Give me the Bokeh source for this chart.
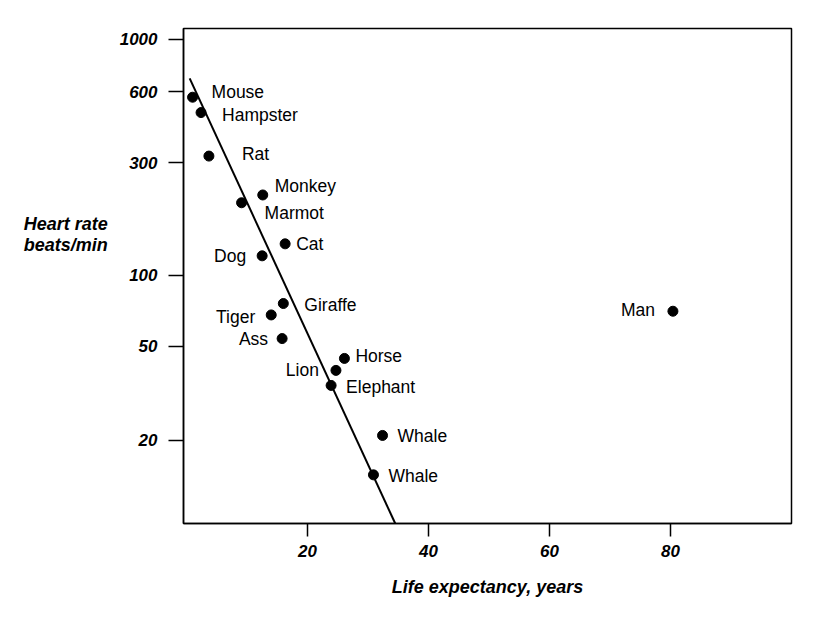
from bokeh.plotting import figure
from bokeh.models import FixedTicker, NumeralTickFormatter, ColumnDataSource, Range1d
from bokeh.embed import file_html
from bokeh.resources import INLINE
from bokeh.core.properties import value, field

# ---- data ----
animals = ["Mouse", "Hampster", "Rat", "Monkey", "Marmot", "Cat", "Dog", "Giraffe",
           "Tiger", "Ass", "Horse", "Lion", "Elephant", "Whale", "Whale", "Man"]
life_years = [1.0, 2.4, 3.7, 12.6, 9.1, 16.3, 12.5, 16.0,
              14.0, 15.8, 26.1, 24.7, 23.9, 32.4, 30.9, 80.4]
heart_rate = [568, 489, 320, 219, 203, 136, 121, 76,
              68, 54, 44.5, 39.6, 34.2, 21, 14.3, 70.5]
fit_years = [0.52, 34.5]
fit_rate = [683, 8.9]
x_ticks = [20, 40, 60, 80]
y_ticks = [20, 50, 100, 300, 600, 1000]

# ---- label placement (screen px, style only) ----
label_dx = [19, 21, 33, 12, 23, 11, -16, 21, -16, -14, 11, -17, 15, 15, 15, -18]
label_dy = [-5, 2, -2, -9, 10, 0, 0, 1, 2, 0, -2, 0, 2, 1, 1, -1]
label_align = ["left" if d > 0 else "right" for d in label_dx]

FONT = "Liberation Sans"

p = figure(width=831, height=623, y_axis_type="log",
           x_range=Range1d(-0.5, 100), y_range=Range1d(8.9, 1110),
           output_backend="svg", toolbar_location=None,
           min_border_left=183, min_border_right=40,
           min_border_top=28, min_border_bottom=100)
p.background_fill_color = "white"
p.border_fill_color = "white"
p.outline_line_color = "black"
p.outline_line_width = 1.5
p.xgrid.visible = False
p.ygrid.visible = False

src = ColumnDataSource(dict(x=life_years, y=heart_rate, name=animals,
                            dx=label_dx, dy=label_dy, align=label_align))

p.line(fit_years, fit_rate, line_color="black", line_width=2)
p.scatter("x", "y", source=src, size=10, color="black")
p.text(x="x", y="y", text="name", source=src, x_offset="dx", y_offset="dy",
       text_align=field("align"), text_baseline="middle",
       text_font=value(FONT), text_font_size="17.5px", text_color="black")

for ax in (p.xaxis[0], p.yaxis[0]):
    ax.axis_line_color = "black"
    ax.axis_line_width = 1.5
    ax.major_tick_line_color = "black"
    ax.major_tick_line_width = 1.5
    ax.major_tick_in = 0
    ax.minor_tick_line_color = None
    ax.major_label_text_font = FONT
    ax.major_label_text_font_style = "bold italic"
    ax.major_label_text_font_size = "17px"
    ax.major_label_text_color = "black"

p.xaxis.ticker = FixedTicker(ticks=x_ticks)
p.xaxis.major_tick_out = 13
p.xaxis.major_label_standoff = 8
p.xaxis.axis_label = "Life expectancy, years"
p.xaxis.axis_label_text_font = FONT
p.xaxis.axis_label_text_font_style = "bold italic"
p.xaxis.axis_label_text_font_size = "18px"
p.xaxis.axis_label_text_color = "black"
p.xaxis.axis_label_standoff = 17

p.yaxis.ticker = FixedTicker(ticks=y_ticks)
p.yaxis.formatter = NumeralTickFormatter(format="0")
p.yaxis.major_tick_out = 15
p.yaxis.major_label_standoff = 11

yax = p.yaxis[0]
# blank trailing lines lift the two visible lines above the frame's middle
yax.axis_label = "Heart rate\nbeats/min\n \n \n \n "
yax.axis_label_text_font = FONT
yax.axis_label_text_font_style = "bold italic"
yax.axis_label_text_font_size = "18px"
yax.axis_label_text_line_height = 1.05
yax.axis_label_text_color = "black"
yax.axis_label_standoff = 9
yax.axis_label_orientation = "horizontal"

open("out.html", "w").write(file_html(p, INLINE))
